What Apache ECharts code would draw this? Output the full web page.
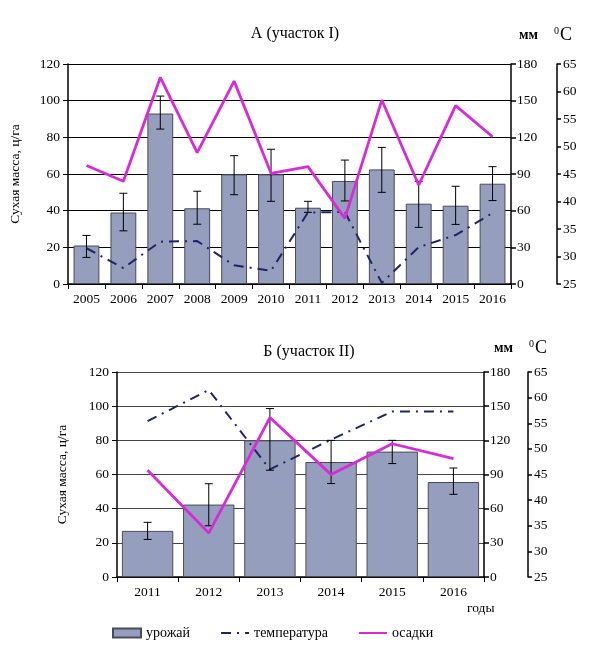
<!DOCTYPE html>
<html>
<head>
<meta charset="utf-8">
<script src="https://cdn.jsdelivr.net/npm/echarts@6/dist/echarts.min.js"></script>
<style>html,body{margin:0;padding:0;background:#fff}#c{width:603px;height:653px}</style>
</head>
<body>
<div id="c"></div>
<script>
// ---- Data ----
const yearsA = ['2005','2006','2007','2008','2009','2010','2011','2012','2013','2014','2015','2016'];
const yieldA = [21, 39, 93, 41.3, 59.8, 59.8, 41.6, 56.2, 62.5, 43.8, 42.7, 54.7];
const yieldLowA = [14.5, 29, 84.5, 32.6, 48.7, 45.1, 39.1, 45.3, 50, 30.9, 32.5, 45.5];
const yieldHighA = [26.5, 49.5, 102.5, 50.6, 70, 73.5, 45.1, 67.6, 74.5, 56, 53.3, 64];
const tempA = [31.5, 27.9, 32.7, 32.8, 28.4, 27.4, 38.0, 38.1, 25.2, 31.7, 33.9, 37.9];
const precA = [97, 84, 169, 107.4, 166, 90.6, 96, 53.7, 150.5, 81, 146, 120.5];

const yearsB = ['2011','2012','2013','2014','2015','2016'];
const yieldB = [27, 42.4, 80, 67.3, 73.4, 55.6];
const yieldLowB = [22, 30, 62.5, 54.7, 66.4, 48.4];
const yieldHighB = [32, 54.6, 98.6, 80, 80, 63.8];
const tempB = [55.4, 61.5, 46, 51.8, 57.3, 57.3];
const precB = [93.7, 38.6, 140, 89.9, 117, 104];

const leftTicks = {min: 0, max: 120, interval: 20};
const mmTicks = {min: 0, max: 180, interval: 30};
const tTicks = {min: 25, max: 65, interval: 5};

const FONT = 'Liberation Serif';
const BAR = '#959fbd';
const MAG = '#d92ad9';
const NAVY = '#1f2468';

function errData(lo, hi) { return lo.map((v, i) => [i, v, hi[i]]); }
function errRender(params, api) {
  const i = api.value(0);
  const a = api.coord([i, api.value(1)]);
  const b = api.coord([i, api.value(2)]);
  const w = 4;
  const st = {stroke: '#000', lineWidth: 1};
  return {type: 'group', children: [
    {type: 'line', shape: {x1: a[0], y1: a[1], x2: b[0], y2: b[1]}, style: st},
    {type: 'line', shape: {x1: a[0]-w, y1: a[1], x2: a[0]+w, y2: a[1]}, style: st},
    {type: 'line', shape: {x1: b[0]-w, y1: b[1], x2: b[0]+w, y2: b[1]}, style: st}
  ]};
}

const tickLbl = {fontFamily: FONT, fontSize: 13.5, color: '#000'};
function xAx(grid, data) {
  return {type: 'category', gridIndex: grid, data: data,
    axisLine: {lineStyle: {color: '#000', width: 1.5}},
    axisTick: {show: true, length: 5, lineStyle: {color: '#000'}},
    axisLabel: Object.assign({margin: 8}, tickLbl)};
}
function leftAx(grid, nameGap, gridColor) {
  return Object.assign({type: 'value', gridIndex: grid, position: 'left',
    name: 'Сухая масса, ц/га', nameLocation: 'middle', nameGap: nameGap,
    nameTextStyle: {fontFamily: FONT, fontSize: 13.5, color: '#000'},
    axisLine: {show: true, lineStyle: {color: '#000', width: 1.5}},
    axisTick: {show: true, length: 5, lineStyle: {color: '#000'}},
    axisLabel: Object.assign({margin: 8}, tickLbl),
    splitLine: {show: true, lineStyle: {color: gridColor, width: 1}}}, leftTicks);
}
function mmAx(grid) {
  return Object.assign({type: 'value', gridIndex: grid, position: 'right',
    axisLine: {show: true, lineStyle: {color: '#000', width: 1.5}},
    axisTick: {show: true, length: 5, lineStyle: {color: '#000', width: 1.5}},
    axisLabel: Object.assign({margin: 6}, tickLbl),
    splitLine: {show: false}}, mmTicks);
}
function tAx(grid, offset) {
  return Object.assign({type: 'value', gridIndex: grid, position: 'right', offset: offset,
    axisLine: {show: true, lineStyle: {color: '#000', width: 1.5}},
    axisTick: {show: true, length: 4, lineStyle: {color: '#000', width: 1.5}},
    axisLabel: Object.assign({margin: 6}, tickLbl),
    splitLine: {show: false}}, tTicks);
}

const tempStyle = {color: NAVY, width: 2, type: [10, 6, 2, 6]};
const precStyle = {color: MAG, width: 2.8};

const option = {
  animation: false,
  textStyle: {fontFamily: FONT},
  grid: [
    {left: 67, right: 92, top: 64, height: 220},
    {left: 117, right: 119, top: 372, height: 205}
  ],
  xAxis: [xAx(0, yearsA), xAx(1, yearsB)],
  yAxis: [leftAx(0, 46, '#000'), mmAx(0), tAx(0, 46),
          leftAx(1, 48, '#444'), mmAx(1), tAx(1, 44)],
  title: [
    {text: 'А (участок I)', left: 290, top: 21, textAlign: 'center',
     textStyle: {fontFamily: FONT, fontSize: 16, fontWeight: 'normal', color: '#000'}},
    {text: 'Б (участок II)', left: 304, top: 339, textAlign: 'center',
     textStyle: {fontFamily: FONT, fontSize: 16, fontWeight: 'normal', color: '#000'}}
  ],
  graphic: [
    {type: 'text', left: 519, top: 28, style: {text: 'мм', fontFamily: FONT, fontSize: 14, fontWeight: 'bold', fill: '#000'}},
    {type: 'text', left: 554, top: 26, style: {text: '{s|0}C', fontFamily: FONT, fontSize: 18, fill: '#000',
      rich: {s: {fontFamily: FONT, fontSize: 10, verticalAlign: 'top', padding: [0, 1, 9, 0]}}}},
    {type: 'text', left: 494, top: 341, style: {text: 'мм', fontFamily: FONT, fontSize: 14, fontWeight: 'bold', fill: '#000'}},
    {type: 'text', left: 529, top: 339, style: {text: '{s|0}C', fontFamily: FONT, fontSize: 18, fill: '#000',
      rich: {s: {fontFamily: FONT, fontSize: 10, verticalAlign: 'top', padding: [0, 1, 9, 0]}}}},
    {type: 'text', left: 467, top: 601, style: {text: 'годы', fontFamily: FONT, fontSize: 13.5, fill: '#000'}}
  ],
  legend: {
    data: [
      {name: 'урожай', icon: 'rect'},
      {name: 'температура', itemStyle: {color: 'rgba(0,0,0,0)', borderWidth: 0}},
      {name: 'осадки', itemStyle: {color: 'rgba(0,0,0,0)', borderWidth: 0}}
    ],
    left: 107, top: 621, itemWidth: 28, itemHeight: 9, itemGap: 30,
    textStyle: {fontFamily: FONT, fontSize: 14, color: '#000'}
  },
  series: [
    {name: 'урожай', type: 'bar', xAxisIndex: 0, yAxisIndex: 0, data: yieldA, barCategoryGap: '30%',
     itemStyle: {color: BAR, borderColor: '#4a4a5a', borderWidth: 1}, z: 2},
    {name: 'err', type: 'custom', xAxisIndex: 0, yAxisIndex: 0, data: errData(yieldLowA, yieldHighA),
     renderItem: errRender, z: 5, silent: true},
    {name: 'температура', type: 'line', xAxisIndex: 0, yAxisIndex: 2, data: tempA, symbol: 'none',
     lineStyle: tempStyle, itemStyle: {color: NAVY}, z: 4},
    {name: 'осадки', type: 'line', xAxisIndex: 0, yAxisIndex: 1, data: precA, symbol: 'none',
     lineStyle: precStyle, itemStyle: {color: MAG}, z: 6},

    {name: 'урожай', type: 'bar', xAxisIndex: 1, yAxisIndex: 3, data: yieldB, barCategoryGap: '16%',
     itemStyle: {color: BAR, borderColor: '#4a4a5a', borderWidth: 1}, z: 2},
    {name: 'err', type: 'custom', xAxisIndex: 1, yAxisIndex: 3, data: errData(yieldLowB, yieldHighB),
     renderItem: errRender, z: 5, silent: true},
    {name: 'температура', type: 'line', xAxisIndex: 1, yAxisIndex: 5, data: tempB, symbol: 'none',
     lineStyle: tempStyle, itemStyle: {color: NAVY}, z: 4},
    {name: 'осадки', type: 'line', xAxisIndex: 1, yAxisIndex: 4, data: precB, symbol: 'none',
     lineStyle: precStyle, itemStyle: {color: MAG}, z: 6}
  ]
};
const chart = echarts.init(document.getElementById('c'), null, {renderer: 'canvas'});
chart.setOption(option);
</script>
</body>
</html>
